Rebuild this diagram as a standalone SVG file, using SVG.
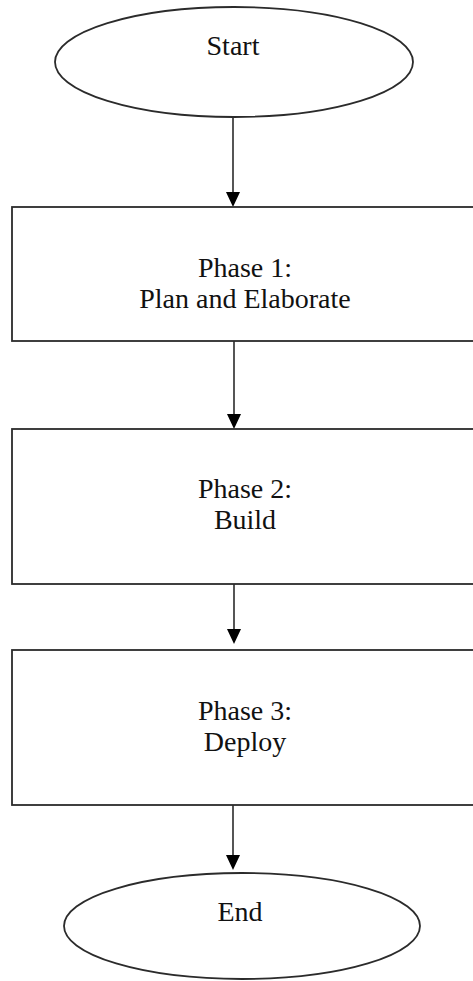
<svg xmlns="http://www.w3.org/2000/svg" width="473" height="981" viewBox="0 0 473 981">
  <style>
    .shape { fill: #ffffff; stroke: #2b2b2b; stroke-width: 1.8; }
    .lbl { font-family: "Liberation Serif", "Times New Roman", serif; font-size: 28px; fill: #111111; text-anchor: middle; }
    .conn { stroke: #2b2b2b; stroke-width: 1.6; fill: none; }
    .head { fill: #000000; }
  </style>
  <rect x="0" y="0" width="473" height="981" fill="#ffffff"/>
  <g id="connectors">
    <line class="conn" x1="233" y1="118" x2="233" y2="194"/>
    <polygon class="head" points="226,192 240,192 233,207"/>
    <line class="conn" x1="234" y1="341" x2="234" y2="416"/>
    <polygon class="head" points="227,414 241,414 234,429"/>
    <line class="conn" x1="234" y1="584" x2="234" y2="631"/>
    <polygon class="head" points="227,629 241,629 234,644"/>
    <line class="conn" x1="233" y1="805" x2="233" y2="857"/>
    <polygon class="head" points="226,855 240,855 233,870"/>
  </g>
  <g id="start">
    <ellipse class="shape" cx="234" cy="62" rx="179" ry="55"/>
    <text class="lbl" x="233" y="55">Start</text>
  </g>
  <g id="phase1">
    <rect class="shape" x="12" y="207" width="466" height="134"/>
    <text class="lbl" x="245" y="277">Phase 1:</text>
    <text class="lbl" x="245" y="308">Plan and Elaborate</text>
  </g>
  <g id="phase2">
    <rect class="shape" x="12" y="429" width="466" height="155"/>
    <text class="lbl" x="245" y="498">Phase 2:</text>
    <text class="lbl" x="245" y="529">Build</text>
  </g>
  <g id="phase3">
    <rect class="shape" x="12" y="650" width="466" height="155"/>
    <text class="lbl" x="245" y="720">Phase 3:</text>
    <text class="lbl" x="245" y="751">Deploy</text>
  </g>
  <g id="end">
    <ellipse class="shape" cx="242" cy="926" rx="178" ry="53"/>
    <text class="lbl" x="240" y="921">End</text>
  </g>
</svg>
